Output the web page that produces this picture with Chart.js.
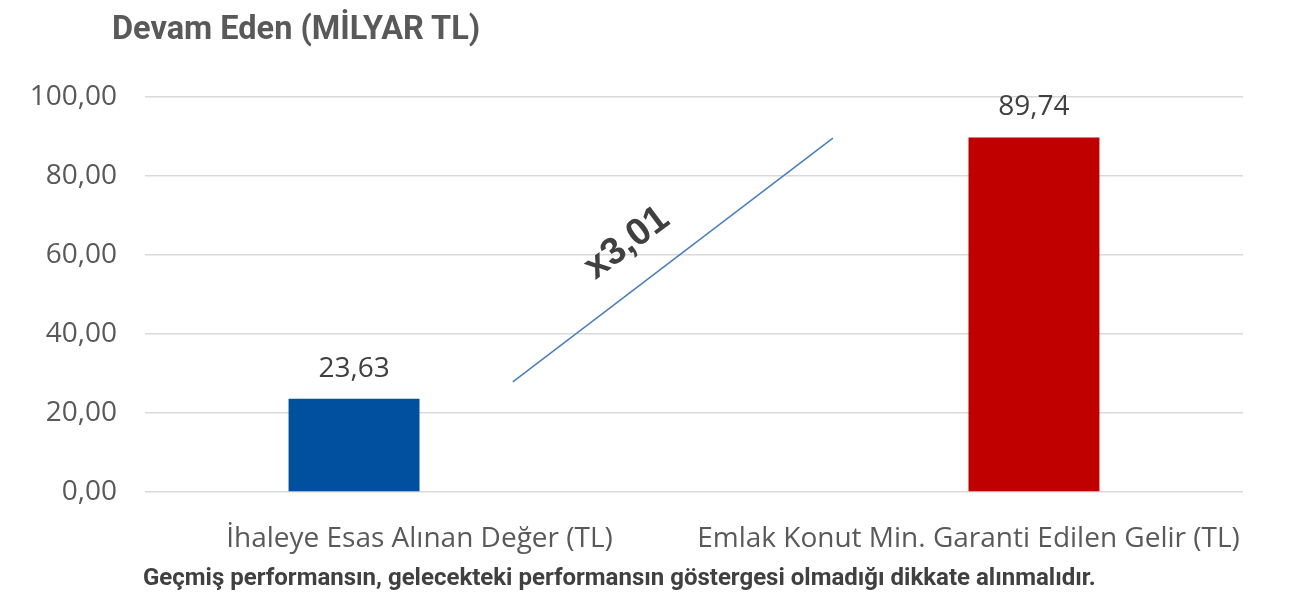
<!DOCTYPE html>
<html>
<head>
<meta charset="utf-8">
<script src="https://cdn.jsdelivr.net/npm/chart.js@4.4.0/dist/chart.umd.min.js"></script>
<style>
  html, body { margin: 0; padding: 0; background: #fff; }
  #wrap { position: relative; width: 1303px; height: 593px; }
  #title { position: absolute; left: 112px; top: 9px; font: bold 32.5px Roboto, sans-serif; line-height: 38px; color: #595959; white-space: nowrap; }
  #footer { position: absolute; left: 143px; top: 563px; font: bold 24px Roboto, sans-serif; line-height: 28px; color: #404040; white-space: nowrap; }
  canvas { position: absolute; left: 0; top: 0; }
</style>
</head>
<body>
<div id="wrap">
  <canvas id="barChart" width="1303" height="593"></canvas>
  <div id="title">Devam Eden (MİLYAR TL)</div>
  <div id="footer">Geçmiş performansın, gelecekteki performansın göstergesi olmadığı dikkate alınmalıdır.</div>
</div>
<script>
// categories and values
const categories = ['İhaleye Esas Alınan Değer (TL)', 'Emlak Konut Min. Garanti Edilen Gelir (TL)'];
const auctionValue = [23.63, null];
const guaranteedIncome = [null, 89.74];
const yTicks = [0, 20, 40, 60, 80, 100];

// growth arrow (x in category units, y in MİLYAR TL)
const arrowPoints = [{x: 0.17, y: 27.9}, {x: 0.753, y: 89.6}];
const arrowLabel = 'x3,01';
const arrowLabelPos = {x: 0.378, y: 63};

function fmt(v) {
    return v.toFixed(2).replace('.', ',');
}

// draws the arrow line, values above bars and the rotated multiplier label
const labelsPlugin = {
    id: 'labelsPlugin',
    afterDatasetsDraw(chart) {
        const ctx = chart.ctx;
        const xs = chart.scales.x;
        const ys = chart.scales.y;
        ctx.save();

        ctx.strokeStyle = '#4A7EBB';
        ctx.lineWidth = 1.5;
        ctx.beginPath();
        arrowPoints.forEach((p, i) => {
            const px = xs.getPixelForValue(p.x);
            const py = ys.getPixelForValue(p.y);
            if (i === 0) ctx.moveTo(px, py); else ctx.lineTo(px, py);
        });
        ctx.stroke();

        ctx.font = '28px "Open Sans", sans-serif';
        ctx.fillStyle = '#404040';
        ctx.textAlign = 'center';
        ctx.textBaseline = 'middle';
        [0, 1].forEach(di => {
            chart.getDatasetMeta(di).data.forEach((bar, i) => {
                const v = chart.data.datasets[di].data[i];
                if (v == null) return;
                ctx.fillText(fmt(v), bar.x, bar.y - 30);
            });
        });

        ctx.translate(xs.getPixelForValue(arrowLabelPos.x), ys.getPixelForValue(arrowLabelPos.y));
        ctx.rotate(-37 * Math.PI / 180);
        ctx.font = 'bold 38px "Liberation Sans", Arial, sans-serif';
        ctx.fillText(arrowLabel, 0, 0);
        ctx.restore();
    }
};

let ctx = document.getElementById('barChart').getContext('2d');
let chart = new Chart(ctx, {
    type: 'bar',
    data: {
        labels: categories,
        datasets: [{
            data: auctionValue,
            backgroundColor: '#0050A0',
            categoryPercentage: 0.477,
            barPercentage: 1
        }, {
            data: guaranteedIncome,
            backgroundColor: '#C00000',
            categoryPercentage: 0.477,
            barPercentage: 1
        }]
    },
    options: {
        responsive: false,
        animation: false,
        layout: { padding: { top: 97, right: 60, left: 0, bottom: 0 } },
        plugins: {
            legend: { display: false },
            tooltip: { enabled: false }
        },
        scales: {
            x: {
                grid: { display: false },
                border: { display: false },
                ticks: {
                    color: '#595959',
                    font: { family: '"Open Sans", sans-serif', size: 28 },
                    padding: 22,
                    maxRotation: 0
                },
                afterFit(scale) { scale.height = 101; }
            },
            y: {
                min: 0,
                max: 100,
                afterBuildTicks(scale) { scale.ticks = yTicks.map(v => ({ value: v })); },
                grid: { color: '#D9D9D9', lineWidth: 1.5, drawTicks: false },
                border: { display: false },
                ticks: {
                    color: '#595959',
                    font: { family: '"Open Sans", sans-serif', size: 28 },
                    padding: 28,
                    callback: v => fmt(v)
                },
                afterFit(scale) { scale.width = 145; }
            }
        }
    },
    plugins: [labelsPlugin]
});
</script>
</body>
</html>
